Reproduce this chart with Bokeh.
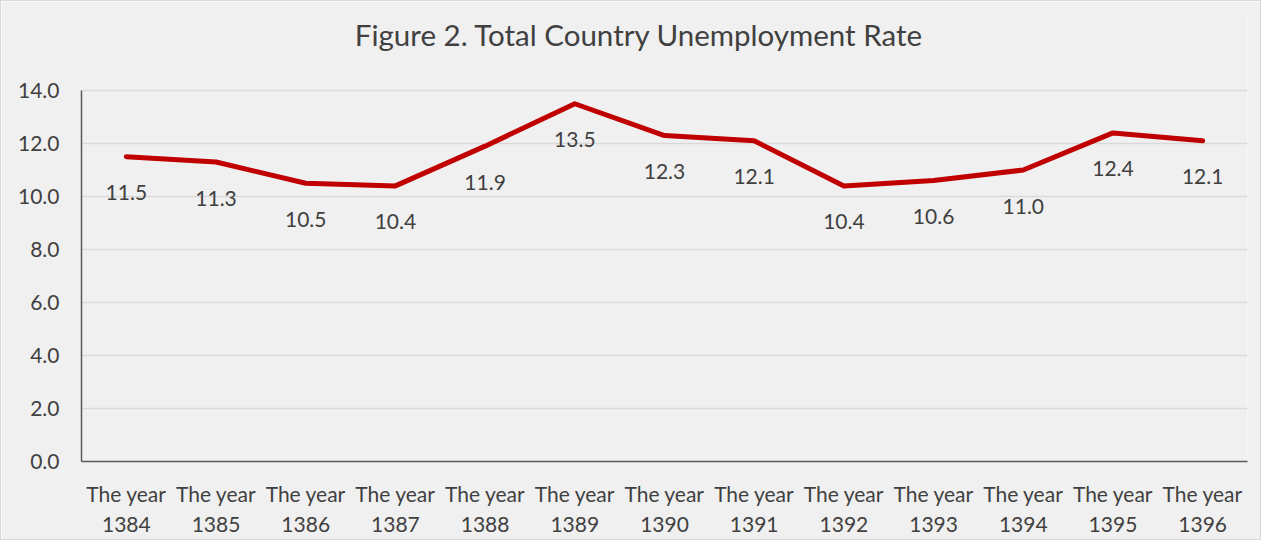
from bokeh.plotting import figure
from bokeh.models import FactorRange, Range1d, FixedTicker, PrintfTickFormatter, ColumnDataSource, Label
from bokeh.core.properties import value
from bokeh.embed import file_html
from bokeh.resources import INLINE

years = ["1384", "1385", "1386", "1387", "1388", "1389", "1390",
         "1391", "1392", "1393", "1394", "1395", "1396"]
rates = [11.5, 11.3, 10.5, 10.4, 11.9, 13.5, 12.3, 12.1, 10.4, 10.6, 11.0, 12.4, 12.1]
y_ticks = [0, 2, 4, 6, 8, 10, 12, 14]
title_text = "Figure 2. Total Country Unemployment  Rate"
cat_prefix = "The year"

FONT = "Lato"
TXT = "#404040"
BG = "#F0F0F0"

cats = [f"{cat_prefix}\n{y}" for y in years]
src = ColumnDataSource(dict(x=cats, y=rates, lab=[f"{r:.1f}" for r in rates]))

# frame extends above the 14.0 gridline to hold the title; axis line bounded to 0..14
y_top = 14 * 450 / 371

p = figure(width=1261, height=540, x_range=FactorRange(*cats, range_padding=0),
           y_range=Range1d(0, y_top), output_backend="svg", toolbar_location=None,
           min_border_left=80, min_border_right=15, min_border_top=10, min_border_bottom=80,
           background_fill_color=BG, border_fill_color=BG, outline_line_color=None,
           styles={"border": "1px solid #D9D9D9"})

p.add_layout(Label(x=6.26, y=16.1, text=title_text, text_align="center",
                   text_baseline="middle", text_font=FONT, text_font_size="29.5px",
                   text_color=TXT))

p.line("x", "y", source=src, line_color="#C00000", line_width=5,
       line_cap="round", line_join="round")
p.text("x", "y", text="lab", source=src, y_offset=36, text_align="center",
       text_baseline="middle", text_font=value(FONT), text_font_size="21px",
       text_color=TXT)

p.xgrid.grid_line_color = None
p.ygrid.grid_line_color = "#D9D9D9"
p.ygrid.grid_line_width = 1.5

p.yaxis.ticker = FixedTicker(ticks=y_ticks)
p.yaxis.formatter = PrintfTickFormatter(format="%.1f")
p.yaxis.bounds = (0, 14)

for ax in (p.xaxis, p.yaxis):
    ax.axis_line_color = "#595959"
    ax.axis_line_width = 1.5
    ax.major_tick_line_color = None
    ax.minor_tick_line_color = None
    ax.major_label_text_font = FONT
    ax.major_label_text_font_size = "21px"
    ax.major_label_text_color = TXT
p.yaxis.major_label_standoff = 16
p.xaxis.major_label_standoff = 13

open("out.html", "w").write(file_html(p, INLINE))
